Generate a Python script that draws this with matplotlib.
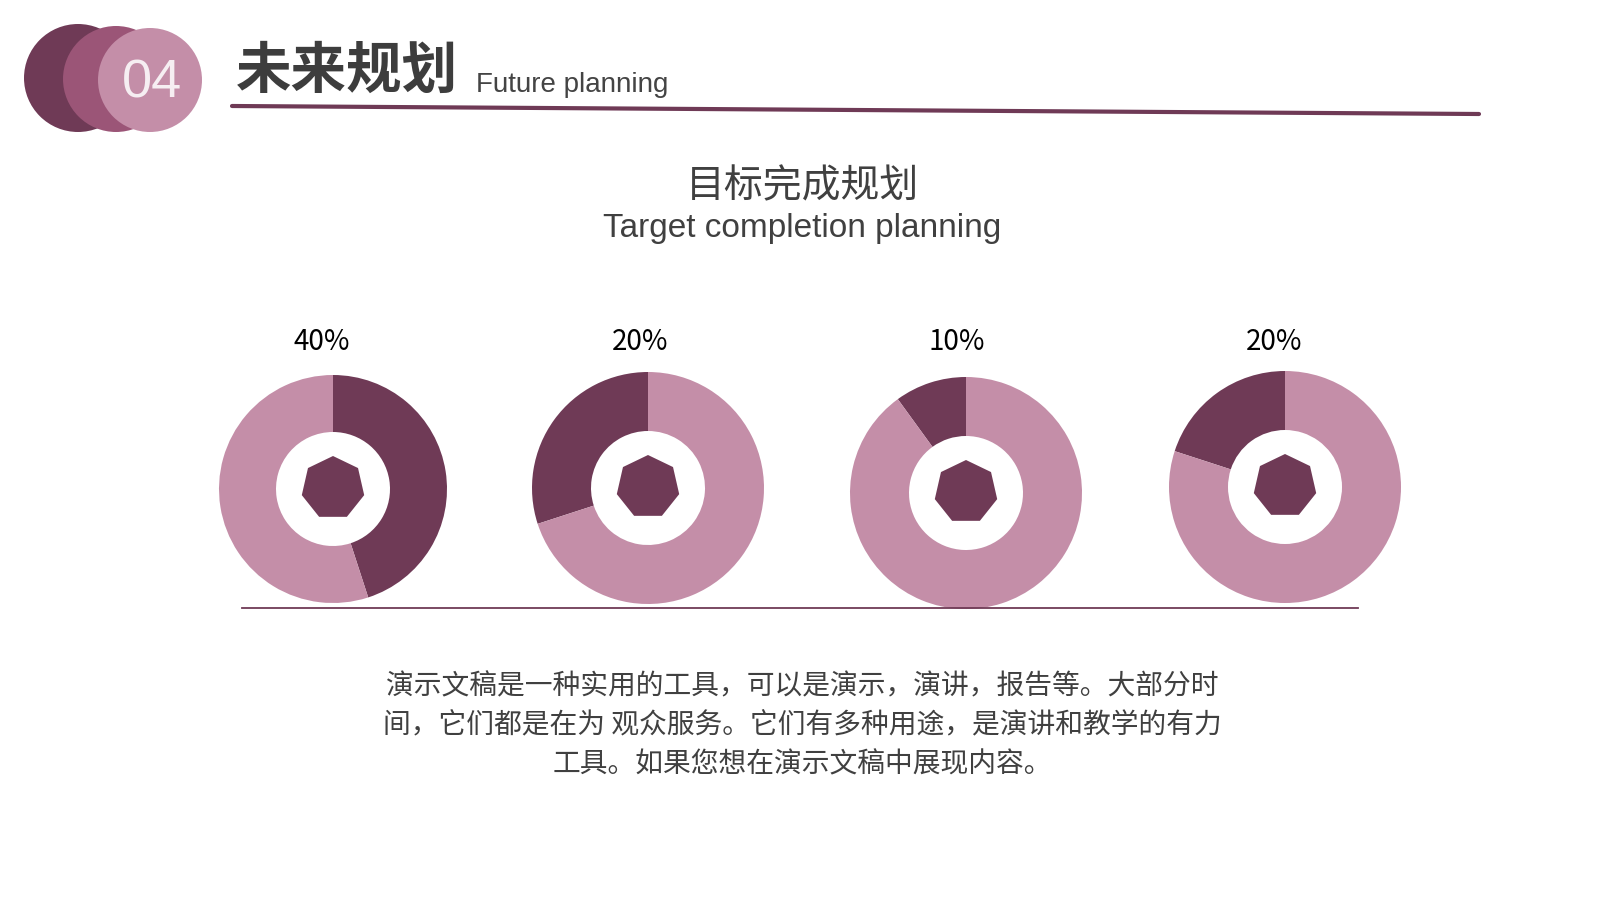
import matplotlib
matplotlib.use('Agg')
import matplotlib.pyplot as plt
from matplotlib.patches import Circle, RegularPolygon

plt.rcParams['font.family'] = ['Noto Sans CJK SC', 'DejaVu Sans']

# chart data
section_no = '04'
section_title = '未来规划'
section_title_en = 'Future planning'
chart_title = '目标完成规划'
chart_title_en = 'Target completion planning'
percent_labels = ['40%', '20%', '10%', '20%']
dark_share = [45, 30, 10, 20]          # dark slice as drawn, in percent
clockwise = [True, False, False, False]
body_lines = [
    '演示文稿是一种实用的工具，可以是演示，演讲，报告等。大部分时',
    '间，它们都是在为 观众服务。它们有多种用途，是演讲和教学的有力',
    '工具。如果您想在演示文稿中展现内容。',
]

DARK = '#6f3a56'
MID = '#9b5577'
LIGHT = '#c48ea8'
TEXT = '#404040'

W, H = 1600, 900


def Y(y):
    # page coords are measured from the top
    return H - y


fig = plt.figure(figsize=(16, 9), dpi=100)
ax = fig.add_axes([0, 0, 1, 1])

# header badge
ax.add_patch(Circle((78, Y(78)), 54, color=DARK, lw=0))
ax.add_patch(Circle((116, Y(79)), 53, color=MID, lw=0))
ax.add_patch(Circle((150, Y(80)), 52, color=LIGHT, lw=0))
ax.text(152, Y(83), section_no, color='#f6eef2', fontsize=39,
        family=['Liberation Sans'], ha='center', va='center')

ax.text(236, Y(88), section_title, color='#3d3d3d', fontsize=40,
        fontweight='bold', ha='left', va='baseline')
ax.text(476, Y(92), section_title_en, color='#444444', fontsize=20,
        family=['Liberation Sans'], ha='left', va='baseline')
ax.plot([232, 1479], [Y(106), Y(114)], color=DARK, lw=3,
        solid_capstyle='round')

# chart title
ax.text(802, Y(186), chart_title, color=TEXT, fontsize=28,
        fontweight='light', ha='center', va='center')
ax.text(802, Y(237), chart_title_en, color=TEXT, fontsize=24,
        family=['Liberation Sans'], ha='center', va='baseline')

# donuts
centers = [(333, 489), (648, 488), (966, 493), (1285, 487)]
radii = [114, 116, 116, 116]
label_x = [322, 640, 957, 1274]
for i, share in enumerate(dark_share):
    cx, cy = centers[i]
    r = radii[i]
    ax.pie([share, 100 - share], colors=[DARK, LIGHT], center=(cx, Y(cy)),
           radius=r, startangle=90, counterclock=not clockwise[i],
           wedgeprops=dict(width=r - 57, linewidth=0), frame=True)
    ax.add_patch(RegularPolygon((cx, Y(cy) + 1), numVertices=7, radius=32,
                                color=DARK, lw=0))
    ax.text(label_x[i], Y(342), percent_labels[i], color='black',
            fontsize=20, ha='center', va='center')

ax.plot([242, 1358], [Y(608), Y(608)], color=DARK, lw=1.3)

# description
for j, line in enumerate(body_lines):
    ax.text(802, Y(686 + 39 * j), line, color=TEXT, fontsize=20,
            ha='center', va='center')

ax.set_xlim(0, W)
ax.set_ylim(0, H)
ax.set_aspect('auto')
ax.axis('off')

fig.savefig('out.png', dpi=100, facecolor='white')
